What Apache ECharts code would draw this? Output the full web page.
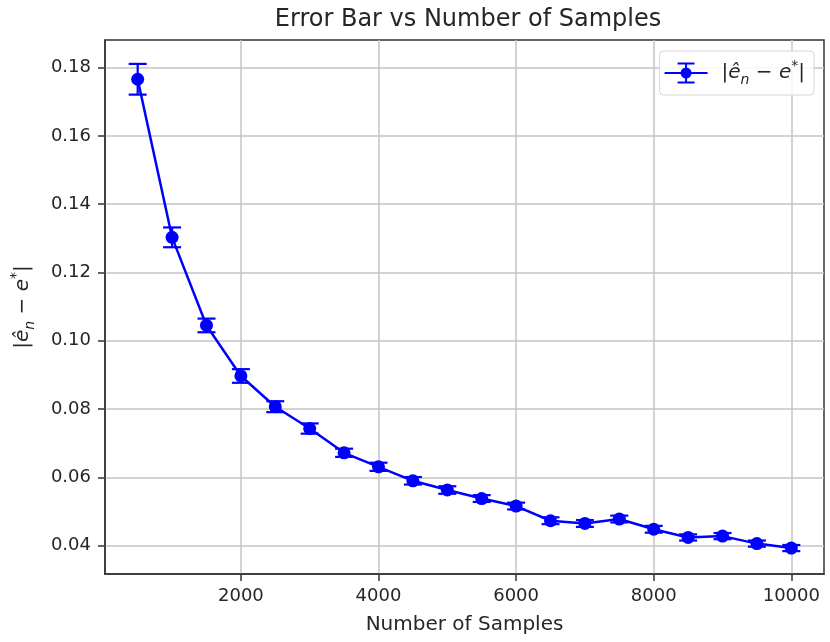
<!DOCTYPE html>
<html><head><meta charset="utf-8">
<script src="https://cdn.jsdelivr.net/npm/echarts@6/dist/echarts.min.js"></script>
<style>html,body{margin:0;padding:0;background:#fff}#c{width:830px;height:642px}</style>
</head><body><div id="c"></div>
<script>
const samples = [500,1000,1500,2000,2500,3000,3500,4000,4500,5000,5500,6000,6500,7000,7500,8000,8500,9000,9500,10000];
const errMean = [0.1766,0.1303,0.1045,0.0897,0.0807,0.0743,0.0672,0.0631,0.0590,0.0563,0.0538,0.0516,0.0473,0.0465,0.0478,0.0448,0.0424,0.0428,0.0406,0.0393];
const errStd  = [0.0045,0.0029,0.0020,0.0020,0.0016,0.0015,0.0012,0.0012,0.0011,0.0011,0.0010,0.0010,0.0010,0.0010,0.0010,0.0010,0.0009,0.0009,0.0009,0.0009];
const xTicks = [2000,4000,6000,8000,10000];
const yTicks = [0.04,0.06,0.08,0.10,0.12,0.14,0.16,0.18];

const BLUE = '#0000ff';
const FONT = 'DejaVu Sans';
const TXT = '#262626';
const mathRich = {
  a: {fontFamily: FONT, fontSize: 20, color: TXT, lineHeight: 28},
  i: {fontFamily: FONT, fontSize: 20, color: TXT, fontStyle: 'italic', lineHeight: 28},
  s: {fontFamily: FONT, fontSize: 14, color: TXT, fontStyle: 'italic', lineHeight: 28, verticalAlign: 'bottom', padding: [7,0,0,0]},
  p: {fontFamily: FONT, fontSize: 14, color: TXT, lineHeight: 28, verticalAlign: 'top', padding: [0,0,8,0]}
};
const mathLabel = '{a||}{i|ê}{s|n}{a| − }{i|e}{p|*}{a||}';

const errData = samples.map((x, k) => [x, errMean[k] - errStd[k], errMean[k] + errStd[k]]);
const lineData = samples.map((x, k) => [x, errMean[k]]);

const iconPath = 'path://M0 9.5H43V11.5H0Z M20.5 0H22.5V21H20.5Z M13 0H30V2H13Z M13 19H30V21H13Z M16 10.5A5.5 5.5 0 1 1 27 10.5A5.5 5.5 0 1 1 16 10.5Z';

const chart = echarts.init(document.getElementById('c'), null, {renderer: 'canvas'});
chart.setOption({
  animation: false,
  backgroundColor: '#fff',
  title: {
    text: 'Error Bar vs Number of Samples', left: 463, textAlign: 'center', top: 3,
    textStyle: {fontFamily: FONT, fontSize: 24, fontWeight: 'normal', color: TXT}
  },
  grid: {left: 105, right: 6, top: 40, bottom: 68, show: true, borderColor: '#333', borderWidth: 1.5, backgroundColor: 'transparent'},
  legend: {
    right: 16, top: 51, orient: 'vertical',
    data: [{name: 'err', icon: iconPath}],
    itemWidth: 43, itemHeight: 21, itemGap: 4,
    padding: [8, 9, 8, 5],
    borderColor: '#d6d6d6', borderWidth: 1, borderRadius: 4, backgroundColor: 'rgba(255,255,255,0.85)',
    formatter: () => mathLabel,
    textStyle: {rich: mathRich, padding: [0, 0, 0, 9]}
  },
  xAxis: {
    type: 'value', min: 25, max: 10475,
    name: 'Number of Samples', nameLocation: 'middle', nameGap: 41,
    nameTextStyle: {fontFamily: FONT, fontSize: 20, color: TXT},
    axisLine: {show: true, lineStyle: {color: '#333', width: 1.5}},
    axisTick: {show: true, length: 7, inside: false, customValues: xTicks, lineStyle: {color: '#333', width: 1.5}},
    axisLabel: {customValues: xTicks, fontFamily: FONT, fontSize: 18, color: TXT, margin: 13, formatter: v => String(v)},
    splitLine: {show: true, lineStyle: {color: '#c4c4c4', width: 1.5}}
  },
  yAxis: {
    type: 'value', min: 0.0317, max: 0.1881,
    name: mathLabel, nameLocation: 'middle', nameGap: 68, nameRotate: 90,
    nameTextStyle: {rich: mathRich},
    axisLine: {show: true, lineStyle: {color: '#333', width: 1.5}},
    axisTick: {show: true, length: 7, inside: false, customValues: yTicks, lineStyle: {color: '#333', width: 1.5}},
    axisLabel: {customValues: yTicks, fontFamily: FONT, fontSize: 18, color: TXT, margin: 14, formatter: v => v.toFixed(2)},
    splitLine: {show: true, lineStyle: {color: '#c4c4c4', width: 1.5}}
  },
  series: [
    {
      name: 'err', type: 'line', data: lineData, color: BLUE,
      symbol: 'circle', symbolSize: 13, showSymbol: true,
      lineStyle: {color: BLUE, width: 2.5}, itemStyle: {color: BLUE}, z: 3
    },
    {
      name: 'errbar', type: 'custom', data: errData, z: 4,
      renderItem: (params, api) => {
        const x = api.value(0);
        const lo = api.coord([x, api.value(1)]);
        const hi = api.coord([x, api.value(2)]);
        const hw = 9;
        const st = {stroke: BLUE, lineWidth: 2.2};
        return {type: 'group', children: [
          {type: 'line', shape: {x1: lo[0], y1: lo[1], x2: hi[0], y2: hi[1]}, style: st},
          {type: 'line', shape: {x1: lo[0]-hw, y1: lo[1], x2: lo[0]+hw, y2: lo[1]}, style: st},
          {type: 'line', shape: {x1: hi[0]-hw, y1: hi[1], x2: hi[0]+hw, y2: hi[1]}, style: st}
        ]};
      }
    }
  ]
});
</script></body></html>
